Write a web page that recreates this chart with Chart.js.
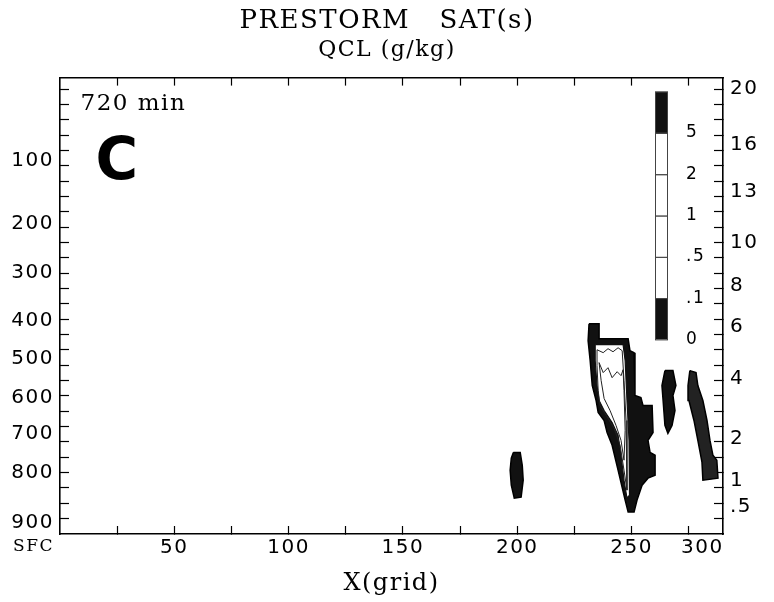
<!DOCTYPE html>
<html>
<head>
<meta charset="utf-8">
<script src="https://cdn.jsdelivr.net/npm/chart.js@4.4.0/dist/chart.umd.min.js"></script>
<style>
    html, body { margin: 0; padding: 0; background: #fff; }
</style>
</head>
<body>
<canvas id="mycanvas" width="774" height="602"></canvas>
<script>
// x in grid points, y in model levels (0 = surface)
var xMax = 290;
var yMax = 29.75;

var xTicks = [25, 50, 75, 100, 125, 150, 175, 200, 225, 250, 275];
var xLabels = [50, 100, 150, 200, 250];
var xEndLabel = '300';
var xEndLabelAt = 281;

var pressureLabels = ['100', '200', '300', '400', '500', '600', '700', '800', '900', 'SFC'];
var pressureLevels = [24.3, 20.2, 17.0, 13.9, 11.4, 8.9, 6.5, 4.0, 0.7, -0.8];

var heightLabels = ['20', '16', '13', '10', '8', '6', '4', '2', '1', '.5'];
var heightLevels = [29.0, 25.4, 22.3, 19.0, 16.2, 13.5, 10.1, 6.2, 3.5, 1.8];

// colour bar, g/kg
var qclLevels = ['0', '.1', '.5', '1', '2', '5'];
var qclColors = ['#111', '#fff', '#fff', '#fff', '#fff', '#111'];

var runTime = '720 min';
var panelLetter = 'C';

// main cell: 0.1 g/kg edge, core, inner contours
var mainEdge = [[231.4, 13.7], [235.8, 13.7], [235.8, 12.73], [248.5, 12.73], [249.3, 11.95], [251.1, 11.82],
    [251.5, 9.03], [254.1, 8.9], [255.0, 8.38], [259.0, 8.38], [259.4, 6.62], [257.2, 6.1], [258.1, 5.32],
    [260.3, 5.13], [260.3, 3.83], [257.2, 3.64], [254.6, 3.18], [252.4, 2.21], [251.1, 1.43], [248.5, 1.43],
    [247.2, 2.21], [244.1, 4.16], [241.5, 5.78], [239.3, 6.62], [238.0, 7.4], [235.4, 7.92], [234.5, 8.7],
    [232.8, 9.68], [231.9, 11.3], [231.0, 12.6]];
var mainCore = [[234.1, 12.34], [246.3, 12.34], [247.2, 11.3], [248.0, 8.7], [248.9, 6.1], [249.3, 4.16],
    [248.9, 2.53], [248.0, 2.34], [246.7, 3.51], [245.4, 5.13], [244.1, 6.43], [241.5, 7.27], [238.0, 8.05],
    [235.8, 8.7], [234.9, 9.68], [234.1, 11.3]];
var mainHalf = [[234.9, 12.01], [237.6, 11.82], [239.7, 12.08], [241.9, 11.88], [244.1, 12.14], [245.9, 11.95],
    [246.7, 10.0], [247.6, 7.4], [248.0, 4.81], [248.0, 2.86], [246.7, 4.16], [245.0, 5.78], [242.4, 6.88],
    [238.9, 7.73], [236.2, 8.38], [235.4, 9.35], [234.9, 10.97]];
var mainOne = [[235.8, 11.17], [237.6, 10.52], [239.7, 10.84], [241.5, 10.19], [243.7, 10.58], [245.4, 10.32],
    [246.3, 10.71], [246.7, 9.35], [247.2, 6.75], [246.7, 4.81], [245.4, 6.1], [243.2, 7.08], [240.6, 8.05],
    [238.0, 8.83], [236.7, 10.0]];

// small cells
var cellWest = [[198.3, 5.32], [201.3, 5.32], [202.2, 4.48], [202.6, 3.51], [201.7, 2.4], [198.7, 2.34],
    [197.4, 3.18], [196.9, 4.16], [197.4, 4.94]];
var cellMid = [[264.6, 10.65], [268.1, 10.65], [269.4, 9.68], [268.1, 9.03], [269.0, 8.05], [267.7, 7.08],
    [265.9, 6.56], [264.6, 7.08], [263.8, 8.7], [263.3, 9.68]];
var cellEast = [[275.5, 10.65], [278.2, 10.52], [279.0, 9.68], [281.2, 8.7], [282.1, 8.05], [283.0, 7.4],
    [284.3, 6.1], [285.6, 5.13], [287.3, 4.81], [287.8, 3.64], [281.2, 3.51], [280.8, 4.68], [279.0, 6.1],
    [277.3, 7.4], [275.1, 8.7], [274.7, 9.68]];

function ring(pts) {
    var out = pts.map(function (p) { return { x: p[0], y: p[1] }; });
    out.push({ x: pts[0][0], y: pts[0][1] });
    return out;
}

function shape(pts, fillColor, lineColor, lineWidth, order, filled) {
    return {
        data: ring(pts),
        showLine: true,
        fill: filled ? 'shape' : false,
        backgroundColor: fillColor,
        borderColor: lineColor,
        borderWidth: lineWidth,
        pointRadius: 0,
        tension: 0,
        order: order
    };
}

var levelTicks = [];
for (var k = 1; k < yMax; k++) {
    levelTicks.push(k);
}

function sideTicks(labels, levels) {
    var t = levelTicks.map(function (v) { return { value: v, lbl: '' }; });
    for (var i = 0; i < labels.length; i++) {
        t.push({ value: levels[i], lbl: labels[i], noMark: true });
    }
    return t;
}

function markColor(c) {
    return c.tick && c.tick.noMark ? 'rgba(0,0,0,0)' : '#000';
}

// the old plotter lettering is wide, so space the glyphs out a bit
var wideText = {
    id: 'wideText',
    beforeDraw: function (chart) { chart.ctx.letterSpacing = '1.5px'; },
    afterDraw: function (chart) { chart.ctx.letterSpacing = '0px'; }
};

var annotations = {
    id: 'annotations',
    afterDatasetsDraw: function (chart) {
        var ctx = chart.ctx;
        var xs = chart.scales.x;
        var ys = chart.scales.y;
        var a = chart.chartArea;
        ctx.save();
        ctx.fillStyle = '#000';
        ctx.textBaseline = 'middle';
        ctx.textAlign = 'left';
        ctx.font = '23px "DejaVu Serif"';
        ctx.fillText(runTime, xs.getPixelForValue(9), ys.getPixelForValue(28));
        ctx.font = 'bold 58px "DejaVu Sans"';
        ctx.textAlign = 'center';
        ctx.fillText(panelLetter, xs.getPixelForValue(25.2), ys.getPixelForValue(24.1));

        // colour bar
        var bx = a.right - 68, bw = 13, by = a.top + 14, bh = 41.3;
        var n = qclColors.length;
        for (var i = 0; i < n; i++) {
            var top = by + (n - 1 - i) * bh;
            ctx.fillStyle = qclColors[i];
            ctx.fillRect(bx, top, bw, bh);
            ctx.strokeStyle = '#444';
            ctx.lineWidth = 1;
            ctx.strokeRect(bx + 0.5, top + 0.5, bw - 1, bh);
        }
        ctx.fillStyle = '#000';
        ctx.textAlign = 'left';
        ctx.font = '17px "DejaVu Sans"';
        for (i = 0; i < qclLevels.length; i++) {
            ctx.fillText(qclLevels[i], bx + 31, by + (qclLevels.length - i) * bh);
        }
        ctx.restore();
    }
};

var numFont = { family: 'DejaVu Sans', size: 20 };

var ctx = document.getElementById('mycanvas');

var chart = new Chart(ctx, {
    type: 'scatter',
    data: {
        datasets: [
            shape(mainOne, '#fff', '#222', 1, 1, false),
            shape(mainHalf, '#fff', '#222', 1, 1, false),
            shape(mainCore, '#fff', '#111', 1.2, 2, true),
            shape(mainEdge, '#111', '#000', 1.5, 3, true),
            shape(cellWest, '#111', '#000', 1.5, 3, true),
            shape(cellMid, '#111', '#000', 1.5, 3, true),
            shape(cellEast, '#222', '#000', 1.5, 3, true)
        ]
    },
    options: {
        responsive: false,
        animation: false,
        devicePixelRatio: 1,
        layout: { padding: 0 },
        plugins: {
            legend: { display: false },
            tooltip: { enabled: false },
            title: {
                display: true,
                text: 'PRESTORM   SAT(s)',
                color: '#000',
                font: { family: 'DejaVu Serif', size: 26, weight: 'normal' },
                padding: { top: 6, bottom: 0 }
            },
            subtitle: {
                display: true,
                text: 'QCL (g/kg)',
                color: '#000',
                font: { family: 'DejaVu Serif', size: 22 },
                padding: { top: 0, bottom: 0 }
            }
        },
        scales: {
            x: {
                type: 'linear',
                position: 'bottom',
                min: 0,
                max: xMax,
                afterBuildTicks: function (s) {
                    var t = xTicks.map(function (v) {
                        return { value: v, lbl: xLabels.indexOf(v) >= 0 ? String(v) : '' };
                    });
                    t.push({ value: xEndLabelAt, lbl: xEndLabel, noMark: true });
                    s.ticks = t;
                },
                afterFit: function (s) { s.height = 68; },
                ticks: {
                    autoSkip: false,
                    maxRotation: 0,
                    padding: 10,
                    color: '#000',
                    font: numFont,
                    callback: function (v, i, t) { return t[i].lbl; }
                },
                grid: { drawOnChartArea: false, tickLength: -8, tickColor: markColor, tickWidth: 1.2 },
                border: { display: true, color: '#000', width: 1.6 },
                title: {
                    display: true,
                    text: 'X(grid)',
                    color: '#000',
                    font: { family: 'DejaVu Serif', size: 24 },
                    padding: { top: 0, bottom: 4 }
                }
            },
            xTop: {
                type: 'linear',
                position: 'top',
                min: 0,
                max: xMax,
                afterBuildTicks: function (s) {
                    s.ticks = xTicks.map(function (v) { return { value: v, lbl: '' }; });
                },
                afterFit: function (s) { s.height = 14; },
                ticks: { autoSkip: false, maxRotation: 0, callback: function () { return ''; } },
                grid: { drawOnChartArea: false, tickLength: -8, tickColor: '#000', tickWidth: 1.2 },
                border: { display: true, color: '#000', width: 1.6 }
            },
            y: {
                type: 'linear',
                position: 'left',
                min: 0,
                max: yMax,
                afterBuildTicks: function (s) { s.ticks = sideTicks(pressureLabels, pressureLevels); },
                afterFit: function (s) { s.width = 60; },
                ticks: {
                    autoSkip: false,
                    padding: 15,
                    color: '#000',
                    font: function (c) {
                        if (c.tick && c.tick.lbl === 'SFC') {
                            return { family: 'DejaVu Serif', size: 17 };
                        }
                        return numFont;
                    },
                    callback: function (v, i, t) { return t[i].lbl; }
                },
                grid: { drawOnChartArea: false, tickLength: -9, tickColor: markColor, tickWidth: 1.2 },
                border: { display: true, color: '#000', width: 1.6 }
            },
            yRight: {
                type: 'linear',
                position: 'right',
                min: 0,
                max: yMax,
                afterBuildTicks: function (s) { s.ticks = sideTicks(heightLabels, heightLevels); },
                afterFit: function (s) { s.width = 51; },
                ticks: {
                    autoSkip: false,
                    padding: 16,
                    color: '#000',
                    font: numFont,
                    callback: function (v, i, t) { return t[i].lbl; }
                },
                grid: { drawOnChartArea: false, tickLength: -9, tickColor: markColor, tickWidth: 1.2 },
                border: { display: true, color: '#000', width: 1.6 }
            }
        }
    },
    plugins: [wideText, annotations]
});
</script>
</body>
</html>
